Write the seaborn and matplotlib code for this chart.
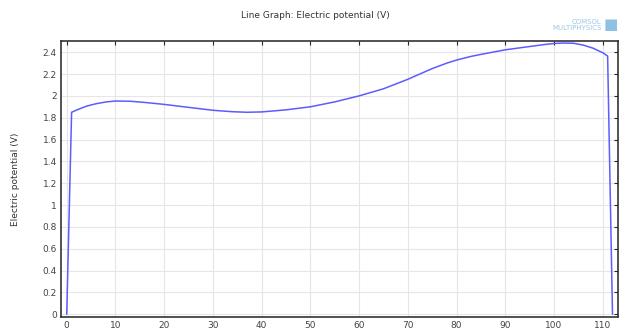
import numpy as np
import pandas as pd
import matplotlib
matplotlib.use('Agg')
import matplotlib.pyplot as plt
import seaborn as sns
from matplotlib.ticker import FuncFormatter

# values
arc_length = [0, 1.0, 2, 4, 6, 8, 10, 13, 16, 20, 25, 30, 34, 37, 40, 45, 50, 55, 60,
              65, 70, 75, 78, 80, 83, 85, 90, 95, 98, 100, 102, 104, 106, 108, 110, 111, 112]
potential = [0, 1.85, 1.87, 1.905, 1.928, 1.944, 1.953, 1.951, 1.94, 1.922, 1.895, 1.868,
             1.855, 1.85, 1.853, 1.872, 1.90, 1.945, 2.0, 2.065, 2.152, 2.25, 2.30, 2.328,
             2.362, 2.38, 2.422, 2.452, 2.47, 2.48, 2.484, 2.482, 2.465, 2.437, 2.395,
             2.365, 0]
x_ticks = [0, 10, 20, 30, 40, 50, 60, 70, 80, 90, 100, 110]
y_ticks = [0, 0.2, 0.4, 0.6, 0.8, 1.0, 1.2, 1.4, 1.6, 1.8, 2.0, 2.2, 2.4]

df = pd.DataFrame({'s': arc_length, 'V': potential})

sns.set_style('white')
plt.rcParams['font.family'] = ['DejaVu Sans']

fig = plt.figure(figsize=(6.37, 3.29), dpi=100)
ax = fig.add_axes([0.0958, 0.0365, 0.874, 0.839])

sns.lineplot(data=df, x='s', y='V', ax=ax, color='#5c5cff', lw=1.1,
             sort=False, estimator=None)

ax.set_xlim(-1.17, 113.08)
ax.set_ylim(-0.025, 2.503)
ax.set_xticks(x_ticks)
ax.set_yticks(y_ticks)
ax.yaxis.set_major_formatter(FuncFormatter(lambda v, p: f'{v:g}'))
ax.grid(True, color='#e6e6e6', lw=0.8)
ax.set_axisbelow(True)
ax.tick_params(direction='in', length=3, width=0.8, labelsize=6.5,
               labelcolor='#444444', top=True, right=True, pad=3)
for sp in ax.spines.values():
    sp.set_color('#333333')
    sp.set_linewidth(1.2)

ax.set_xlabel('')
ax.set_ylabel('Electric potential (V)', fontsize=6.5, color='#333333', labelpad=16)

fig.text(0.495, 0.953, 'Line Graph: Electric potential (V)', ha='center', va='center',
         fontsize=6.5, color='#333333')
fig.text(0.944, 0.925, 'COMSOL\nMULTIPHYSICS', ha='right', va='center',
         fontsize=5, color='#9cc8e6', linespacing=0.95, multialignment='right')
fig.text(0.948, 0.925, '\u25A0', ha='left', va='center', fontsize=11, color='#8ec1e4')

fig.savefig('out.png', dpi=100)
